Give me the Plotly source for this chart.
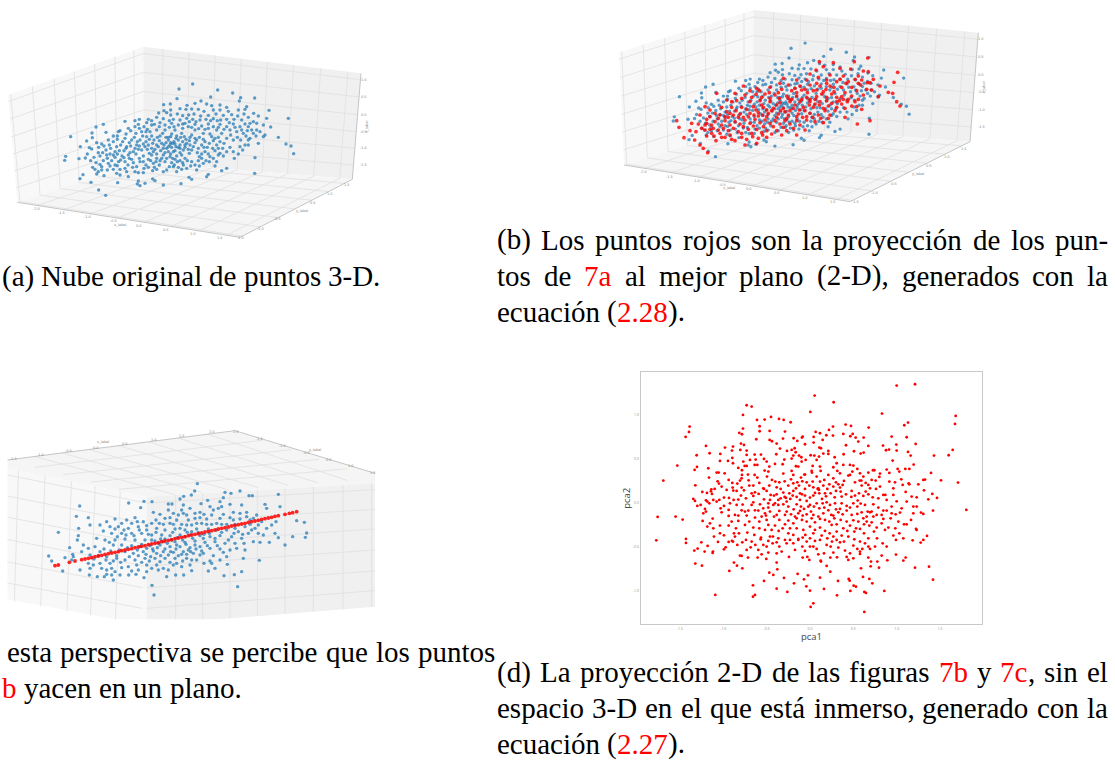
import plotly.graph_objects as go

# --- panel (a): blue cloud, read in picture units (3x crop of the panel)
A_pts = [(578,162),(537,177),(653,180),(698,189),(722,203),(764,204),(531,206),(632,201),(603,213),(585,220),(511,222),(491,224),(561,226),(620,222),(635,227),(660,225),(718,213),(680,232),(740,230),(492,242),(512,240),(540,236),(558,238),(575,237),(595,238),(612,244),(640,240),(660,240),(685,244),(715,240),(735,238),(807,241),(476,249),(500,248),(512,255),(532,252),(548,257),(566,255),(582,252),(602,258),(625,256),(648,252),(670,256),(695,254),(713,258),(732,252),(761,250),(775,258),(800,265),(865,265),(418,268),(445,268),(470,262),(490,266),(520,268),(540,270),(560,265),(578,268),(600,270),(618,268),(640,266),(662,270),(680,268),(702,268),(725,270),(745,262),(375,274),(405,272),(455,272),(790,285),(770,280),(760,275),(745,290),(812,291),(288,291),(310,283),(415,283),(432,290),(440,278),(463,283),(385,295),(405,290),(495,285),(515,280),(535,285),(555,280),(565,290),(585,283),(605,288),(625,282),(640,290),(660,283),(680,290),(700,282),(720,290),(735,282),(276,309),(318,307),(355,305),(360,302),(408,310),(425,305),(450,305),(470,300),(495,300),(525,300),(545,310),(585,300),(610,310),(625,295),(650,300),(665,310),(690,300),(710,305),(730,310),(760,310),(770,300),(790,320),(795,315),(212,320),(277,323),(260,333),(340,318),(325,330),(375,325),(395,330),(420,330),(440,320),(462,330),(480,318),(505,330),(512,320),(535,330),(553,320),(575,315),(590,330),(635,320),(655,322),(680,325),(700,330),(745,330),(750,325),(835,322),(290,338),(305,342),(368,335),(350,350),(380,350),(410,345),(445,345),(485,340),(500,355),(510,345),(518,340),(528,350),(540,345),(560,340),(580,350),(605,345),(628,340),(650,345),(672,340),(690,352),(720,350),(735,345),(775,340),(858,342),(873,348),(241,350),(268,353),(275,357),(318,360),(358,362),(400,365),(425,360),(465,358),(520,365),(550,360),(568,370),(615,365),(645,362),(660,370),(700,365),(881,371),(197,379),(194,391),(237,386),(256,384),(282,382),(300,378),(330,372),(340,375),(385,375),(430,378),(455,375),(490,375),(510,380),(530,378),(555,385),(598,380),(630,380),(670,378),(703,385),(765,383),(300,403),(305,410),(325,400),(330,408),(345,405),(352,407),(375,395),(400,398),(430,395),(460,400),(480,392),(515,398),(540,392),(575,395),(610,400),(650,395),(680,415),(665,422),(290,432),(312,437),(295,425),(350,430),(360,435),(380,425),(385,440),(405,425),(415,428),(430,428),(458,422),(470,418),(490,425),(500,420),(530,425),(545,418),(560,415),(590,420),(625,433),(620,440),(567,442),(575,448),(543,461),(490,465),(465,452),(458,447),(415,453),(412,462),(420,467),(435,460),(353,458),(273,457),(296,480),(317,496),(249,434),(240,446),(764,430),(478,332),(492,345),(505,322),(522,335),(530,318),(548,335),(568,332),(470,345),(455,355),(435,350),(515,352),(525,362),(540,368),(505,365),(490,355),(470,372),(448,370),(575,360),(595,355),(610,328),(622,352),(640,332),(668,355),(712,322),(455,318),(438,335),(415,358),(392,348),(372,362),(352,372),(362,390),(388,385),(418,385),(445,388),(470,385),(500,385),(525,388),(550,405),(598,408)]
A_more = [(262,372),(272,392),(288,398),(278,412),(310,392),(322,385),(335,392),(345,382),(356,395),(372,383),(384,405),(395,388),(408,372),(420,395),(438,405),(452,392),(463,412),(478,405),(495,395),(508,410),(523,405),(535,412),(548,398),(562,392),(585,405),(605,385),(618,392),(640,385),(655,375),(680,365),(715,372),(728,360),(745,345),(296,352),(312,348),(328,345),(340,335),(352,328),(362,345),(388,338),(403,322),(412,335),(428,318),(448,328),(458,340),(472,322),(488,310),(498,322),(515,312),(528,325),(542,322),(558,328),(570,345),(585,338),(598,322),(615,335),(630,312),(645,325),(660,335),(692,315),(722,330),(738,318),(755,300),(768,318),(780,305),(352,318),(378,312),(392,302),(418,295),(442,298),(478,290),(508,292),(522,290),(548,295),(575,292),(596,296),(615,298),(655,292),(672,298),(705,292),(742,302),(750,280),(725,300),(688,278),(652,272),(632,272),(588,275),(568,275),(548,282),(508,272),(480,278),(455,285),(438,305),(498,338),(512,338),(525,342),(535,352),(505,350),(482,362),(495,368),(512,372),(475,350),(460,365),(442,358),(430,342),(418,348),(405,355),(390,368),(378,355),(366,378),(345,365),(332,355),(320,375),(308,368),(295,368),(540,355),(555,352),(565,358),(592,368),(605,372),(625,372),(638,355),(655,355),(612,352),(585,325),(570,322),(555,345),(545,375),(532,395),(518,385),(485,385),(468,395),(445,412),(432,415),(410,410),(398,412),(375,415),(360,418),(340,418),(322,420),(305,420),(285,418),(520,410),(572,408),(595,392),(628,395),(645,408)]

# --- panel (b): red projected cloud, same picture units
B_red = [(863,217),(852,247),(848,280),(860,305),(870,318),(200,362),(207,382),(222,413),(254,420),(270,435),(280,445),(293,458),(773,174),(733,185),(628,185),(670,188),(640,200),(690,205),(722,207),(760,213),(775,215),(618,210),(600,222),(660,225),(700,228),(745,228),(790,238),(520,235),(560,240),(590,240),(625,232),(650,240),(680,245),(715,245),(755,240),(780,248),(810,258),(835,277),(510,250),(535,255),(570,258),(600,255),(630,258),(660,258),(695,262),(725,262),(770,268),(785,270),(805,290),(400,258),(440,265),(480,262),(515,268),(545,272),(575,270),(610,272),(640,275),(672,275),(705,278),(740,272),(760,285),(375,280),(405,285),(438,283),(465,282),(495,285),(530,288),(560,288),(590,292),(620,290),(650,292),(680,292),(715,298),(745,298),(320,280),(350,300),(380,302),(420,305),(450,302),(480,305),(510,308),(540,305),(570,305),(600,305),(630,305),(665,310),(695,312),(725,318),(755,328),(285,320),(300,330),(335,322),(365,322),(395,322),(430,320),(460,322),(490,325),(520,325),(550,325),(580,322),(610,322),(640,325),(675,332),(705,325),(740,320),(270,345),(300,350),(330,345),(360,340),(390,342),(420,340),(445,338),(475,340),(505,342),(535,345),(565,342),(600,340),(625,345),(660,345),(705,352),(742,372),(780,362),(245,370),(265,372),(290,370),(315,365),(345,362),(375,365),(405,360),(435,358),(465,360),(495,362),(525,362),(560,362),(590,360),(615,365),(640,368),(285,390),(310,385),(340,385),(370,385),(400,380),(430,378),(460,380),(490,380),(520,382),(550,385),(585,390),(330,400),(360,405),(395,400),(425,400),(455,398),(485,402),(515,405),(560,405),(290,408),(318,422),(375,422),(410,418),(445,415),(470,412),(440,430),(405,435),(285,375),(305,400),(345,412),(470,330),(500,315),(525,335),(555,315),(585,332),(615,312),(645,332),(470,350),(500,352),(530,355),(560,350),(590,350),(445,348),(415,350),(385,352),(355,352),(325,355),(480,370),(510,372),(540,372),(570,375),(450,368),(420,370),(390,372),(360,375),(335,375),(600,298),(635,282),(665,282),(695,290),(725,288)]
B_more = [(455,315),(438,330),(410,328),(378,332),(350,335),(345,350),(370,345),(400,352),(432,345),(458,345),(485,332),(512,332),(540,332),(568,330),(598,315),(628,315),(655,318),(688,302),(712,305),(735,305),(752,255),(772,248),(745,250),(708,250),(672,262),(648,268),(620,270),(592,278),(560,278),(535,295),(508,295),(480,295),(455,292),(425,292),(395,295),(365,305),(315,340),(290,358),(305,375),(325,390),(355,392),(385,395),(415,388),(440,388),(470,392),(500,392),(530,392),(458,405),(428,410),(395,412),(365,418),(335,412),(312,408),(300,388),(275,385),(258,395),(240,392),(578,352),(608,352),(632,355),(655,355),(680,322),(575,298),(545,298),(615,298),(650,302),(680,305),(700,298),(620,250),(650,250),(690,238),(735,238),(585,268),(555,265),(505,278),(478,278),(448,272),(420,272)]

# --- panel (c): blue cloud and red projected line, same picture units
C_pts = [(592,176),(584,198),(574,210),(551,214),(540,222),(835,208),(720,198),(693,205),(675,202),(747,212),(757,212),(670,218),(623,226),(603,236),(660,230),(386,234),(422,248),(432,229),(456,230),(505,237),(516,237),(239,243),(229,274),(265,278),(270,300),(300,300),(175,322),(236,310),(235,332),(232,345),(209,368),(146,393),(155,408),(188,438),(268,450),(292,455),(313,455),(335,450),(340,465),(386,450),(408,448),(432,458),(456,481),(462,510),(500,455),(527,450),(551,450),(575,437),(713,485),(725,440),(703,449),(672,452),(682,418),(645,430),(625,438),(778,406),(730,400),(795,238),(840,245),(800,250),(920,324),(916,337),(913,292),(890,287),(878,335),(855,360),(835,338),(825,325),(808,352),(780,352),(760,350),(732,355),(545,255),(520,265),(480,268),(460,262),(600,262),(640,255),(655,250),(700,262),(740,262),(770,270),(495,280),(530,285),(560,270),(585,280),(620,282),(660,280),(690,278),(720,282),(750,285),(785,290),(380,285),(405,278),(345,282),(320,290),(430,290),(455,295),(510,295),(545,298),(575,300),(605,295),(635,298),(665,298),(705,298),(735,305),(765,310),(800,310),(355,305),(385,310),(415,305),(440,315),(470,310),(495,315),(525,312),(555,315),(590,312),(625,312),(650,315),(680,315),(715,320),(745,325),(775,325),(335,325),(365,325),(395,325),(425,325),(455,330),(485,330),(510,332),(540,330),(570,330),(600,332),(630,335),(660,332),(695,335),(725,340),(290,340),(315,345),(345,345),(375,342),(405,345),(435,345),(465,348),(495,342),(525,350),(555,352),(585,348),(615,352),(645,350),(675,355),(705,355),(265,370),(285,365),(300,380),(340,360),(365,360),(395,362),(425,358),(450,362),(480,360),(510,365),(540,365),(570,368),(600,365),(630,370),(660,372),(690,375),(735,375),(245,380),(270,390),(295,392),(320,395),(350,392),(375,380),(400,385),(430,380),(460,378),(490,380),(520,382),(550,380),(580,385),(610,385),(640,392),(680,395),(710,370),(220,395),(195,398),(218,388),(265,415),(280,420),(300,415),(330,415),(350,400),(375,405),(405,405),(435,400),(465,400),(495,400),(525,400),(560,400),(590,405),(630,408),(270,430),(305,430),(320,435),(365,428),(385,425),(410,420),(440,420),(470,420),(490,430),(520,420),(545,425),(570,420),(440,440),(475,435),(505,435),(335,430),(415,435),(240,435),(250,360),(215,405),(635,415),(600,390),(565,375),(530,360),(490,350),(455,345),(420,365),(555,335),(515,345),(475,355),(585,360),(610,340),(575,320),(540,310),(635,270),(505,255),(550,265),(600,278),(670,268),(720,265)]
C_more = [(328,352),(352,335),(378,330),(402,332),(418,315),(445,328),(468,322),(482,342),(502,355),(518,322),(532,338),(548,345),(562,322),(578,340),(595,322),(612,328),(628,325),(645,340),(665,322),(685,345),(702,325),(728,328),(755,315),(790,330),(458,372),(472,368),(495,372),(512,380),(528,372),(545,388),(558,358),(572,380),(588,372),(605,378),(622,362),(652,362),(670,382),(312,372),(332,378),(358,375),(382,368),(412,375),(440,370),(438,388),(452,395),(470,385),(482,392),(505,390),(535,392),(560,388),(282,402),(318,405),(340,408),(362,412),(388,395),(415,392),(425,412),(448,408),(480,410),(510,412),(530,415),(548,408),(575,405),(612,415),(660,405),(455,430),(395,438),(345,440),(360,450),(320,448),(520,298),(490,298),(468,285),(440,302),(412,290),(395,295),(365,295),(330,305),(310,318),(345,312),(372,315),(560,300),(590,295),(620,298),(650,295),(680,298),(705,310),(750,298),(775,300),(815,300),(828,290),(612,268),(585,265),(565,285),(535,270),(510,278),(478,295),(700,285),(740,275),(760,280),(550,240),(570,250),(630,245),(665,245),(690,238),(725,240)]
C_red = [(165,422),(175,420),(208,412),(225,408),(245,404),(255,402),(265,400),(275,398),(285,395),(295,393),(305,391),(315,388),(325,386),(335,384),(345,382),(355,380),(365,377),(375,375),(385,373),(395,371),(405,368),(415,366),(425,364),(435,362),(445,359),(455,357),(465,355),(475,353),(485,350),(495,348),(505,346),(515,344),(525,341),(535,339),(545,337),(555,335),(565,332),(575,330),(585,328),(595,326),(605,324),(615,321),(625,319),(635,317),(645,315),(655,312),(665,310),(675,308),(685,306),(695,303),(705,301),(715,299),(725,297),(735,295),(745,292),(755,290),(765,288),(775,286),(785,283),(795,281),(805,279),(815,277),(825,274),(835,272),(855,268),(868,265),(878,263),(890,260)]

# --- panel (d): picture units of the 3x crop, converted to pca1 / pca2 below
D_pts = [(885,58),(830,62),(584,92),(641,112),(380,121),(395,125),(571,141),(786,146),(369,150),(453,156),(1007,153),(411,165),(434,164),(477,162),(491,165),(512,172),(1005,177),(677,179),(693,183),(864,173),(853,181),(419,184),(746,188),(209,185),(369,191),(639,185),(627,195),(207,201),(197,216),(419,199),(449,198),(495,200),(587,201),(600,205),(358,204),(366,208),(815,215),(619,211),(639,212),(670,207),(698,207),(691,214),(707,218),(731,218),(860,217),(409,223),(449,225),(456,229),(489,221),(521,220),(548,215),(546,218),(581,216),(532,228),(555,238),(581,233),(608,225),(715,230),(470,236),(363,236),(372,240),(258,243),(315,248),(339,245),(678,241),(745,243),(789,242),(829,239),(887,237),(598,248),(603,250),(480,251),(524,250),(336,257),(361,255),(380,257),(515,255),(501,258),(527,262),(807,254),(798,256),(830,257),(702,259),(731,263),(722,266),(864,261),(998,255),(625,258),(610,266),(269,265),(301,267),(469,268),(404,269),(423,269),(337,279),(380,270),(230,271),(986,271),(942,272),(872,272),(572,271),(583,272),(597,275),(537,272),(520,272),(544,277),(515,281),(557,285),(671,268),(625,267),(644,277),(407,284),(432,282),(440,290),(493,284),(324,288),(300,288),(818,287),(881,299),(339,295),(370,290),(390,285),(465,297),(545,290),(590,285),(650,295),(700,302),(172,302),(231,306),(224,315),(265,310),(355,309),(374,303),(380,303),(404,300),(412,300),(448,305),(488,298),(528,304),(535,305),(578,303),(600,305),(640,307),(670,300),(690,300),(712,312),(759,316),(763,316),(800,314),(833,312),(856,312),(868,312),(838,320),(290,323),(296,323),(314,325),(366,316),(434,317),(515,318),(555,329),(575,318),(576,323),(602,318),(652,318),(697,320),(720,325),(745,323),(780,326),(808,324),(933,324),(404,330),(366,330),(384,329),(520,330),(490,326),(445,320),(130,347),(267,338),(226,361),(293,349),(297,356),(326,345),(337,354),(352,356),(360,347),(365,340),(386,346),(412,338),(418,354),(456,345),(466,350),(441,335),(494,349),(513,343),(543,338),(553,329),(547,349),(537,362),(578,350),(600,350),(613,345),(640,340),(655,358),(685,332),(690,330),(719,347),(724,347),(737,354),(767,347),(778,336),(808,350),(825,352),(844,343),(866,355),(868,358),(910,345),(915,344),(963,346),(1014,353),(895,358),(745,360),(780,365),(725,362),(640,365),(595,370),(580,367),(520,355),(470,367),(430,370),(400,362),(338,368),(365,368),(284,372),(274,373),(261,384),(273,379),(628,358),(660,368),(247,381),(276,387),(220,402),(340,377),(372,376),(395,385),(405,382),(432,372),(452,390),(462,392),(490,383),(494,396),(498,399),(520,378),(540,385),(546,388),(593,372),(597,375),(585,384),(632,385),(662,380),(695,378),(717,385),(737,380),(750,370),(768,372),(790,390),(796,390),(820,390),(912,376),(857,381),(937,387),(951,399),(925,403),(890,397),(312,398),(327,399),(341,405),(355,404),(363,392),(378,400),(400,393),(416,387),(432,403),(450,405),(475,405),(511,402),(530,396),(560,408),(580,392),(606,402),(618,394),(644,397),(665,395),(694,396),(713,407),(730,393),(758,397),(775,400),(800,405),(830,409),(225,408),(258,406),(280,405),(232,423),(262,410),(268,415),(312,423),(302,430),(326,435),(368,419),(385,437),(400,412),(405,436),(415,437),(430,430),(445,428),(460,420),(490,418),(521,433),(543,425),(540,438),(570,420),(590,415),(608,415),(613,428),(630,420),(645,415),(660,432),(680,423),(700,415),(722,416),(743,440),(750,442),(775,428),(790,437),(815,425),(840,443),(880,425),(890,425),(903,443),(939,437),(1039,435),(255,432),(250,445),(258,440),(305,442),(345,450),(365,436),(438,452),(470,450),(495,450),(513,448),(535,445),(573,440),(625,436),(648,433),(680,437),(712,447),(740,455),(770,450),(800,437),(827,448),(880,445),(910,447),(113,456),(167,455),(188,464),(248,468),(278,461),(270,475),(262,485),(326,453),(355,452),(355,468),(388,470),(418,470),(440,465),(462,455),(478,465),(505,467),(530,460),(546,465),(560,470),(585,472),(615,465),(643,460),(662,465),(680,470),(700,466),(730,460),(755,472),(785,475),(812,460),(852,478),(860,478),(873,465),(280,490),(300,482),(326,482),(348,490),(400,488),(445,480),(465,482),(495,478),(520,475),(570,485),(600,488),(635,480),(670,490),(720,492),(748,482),(805,488),(826,490),(888,492),(312,511),(342,505),(357,505),(382,503),(403,510),(423,518),(450,515),(459,515),(476,498),(505,505),(535,522),(556,510),(580,505),(605,512),(629,505),(640,515),(665,512),(685,515),(703,523),(720,530),(745,520),(771,520),(795,495),(820,512),(838,505),(890,495),(921,513),(878,526),(910,525),(198,522),(109,526),(336,528),(326,531),(422,523),(510,525),(535,525),(585,528),(636,530),(560,530),(198,534),(244,532),(294,531),(312,553),(317,547),(263,543),(233,551),(223,557),(254,560),(279,560),(339,530),(367,532),(392,547),(406,540),(430,540),(440,545),(458,535),(478,545),(500,535),(520,535),(547,545),(570,545),(580,545),(620,540),(632,545),(660,532),(700,542),(712,552),(720,560),(720,567),(745,545),(750,552),(788,535),(828,525),(902,533),(360,572),(425,568),(445,563),(470,565),(612,565),(595,568),(640,563),(675,557),(727,552),(226,596),(246,602),(278,564),(384,578),(365,573),(413,578),(439,582),(507,576),(548,578),(562,576),(568,585),(603,590),(602,587),(631,578),(651,577),(680,576),(685,585),(745,578),(753,590),(785,572),(828,569),(857,578),(850,587),(772,590),(342,593),(351,602),(367,610),(470,593),(472,613),(620,603),(631,620),(723,610),(752,604),(777,608),(802,586),(885,608),(927,605),(328,618),(448,623),(533,627),(939,644),(460,630),(686,642),(492,639),(600,638),(564,631),(552,643),(432,648),(654,648),(689,647),(729,636),(748,642),(757,655),(522,655),(399,661),(701,662),(708,665),(559,664),(470,671),(612,672),(691,678),(570,677),(502,681),(733,681),(738,684),(793,678),(286,690),(651,691),(405,690),(399,695),(580,715),(572,726),(733,741)]
D_more = [(505,362),(528,370),(555,372),(568,362),(610,362),(622,372),(648,352),(672,348),(705,352),(350,378),(388,362),(448,362),(478,352),(532,352),(560,352),(590,335),(625,330),(660,325),(440,378),(482,372),(508,385),(555,392),(570,398),(598,385),(648,378),(678,388),(705,392),(745,388),(470,388),(482,400),(518,392),(540,405),(565,425),(582,425),(598,430),(620,412),(665,415),(690,428),(712,425),(735,420),(760,418),(475,420),(505,425),(530,418),(552,432),(560,448),(580,450),(595,455),(610,445),(634,450),(668,448),(695,450),(725,442),(755,440),(785,450),(815,445),(395,420),(420,418),(435,445),(450,440),(478,438),(500,440),(525,455),(548,452),(575,460),(600,462),(628,470),(650,478),(690,482),(708,490),(732,478),(770,488),(380,452),(405,458),(425,455),(375,480),(418,490),(435,495),(455,495),(488,490),(510,490),(530,490),(550,495),(585,495),(615,498),(650,500),(682,498),(703,500),(732,505),(762,500),(475,520),(495,525),(520,510),(548,518),(570,520),(600,525),(622,520),(650,525),(672,530),(378,525),(395,530),(445,528),(470,532),(345,515),(300,505),(282,515),(352,540),(380,555),(415,555),(485,560),(525,555),(555,558),(590,552),(655,548),(690,565),(700,580),(735,535),(765,545),(800,545),(850,520),(320,375),(305,365),(330,415),(350,420),(335,470),(375,440),(290,410),(242,420),(298,405),(640,452),(655,442),(715,470),(740,470),(760,455),(790,462),(835,470),(845,430),(860,410),(875,395),(848,360),(820,370),(755,345),(730,335),(668,360),(615,385),(500,410),(465,415),(445,415)]

D_xticks = [-1.5, -1.0, -0.5, 0.0, 0.5, 1.0, 1.5]
D_yticks = [-1.0, -0.5, 0.0, 0.5, 1.0]

# --- captions: "|" glues pieces of one word, "!" marks a red piece
# (y, left x, right x for justified lines or None, words)
CAPTION_LINES = [
    (276, 2, None, "(a) Nube original de puntos 3-D."),
    (239.5, 497, 1108, "(b) Los puntos rojos son la proyección de los pun-"),
    (275.5, 497, 1108, "tos de !7a al mejor plano (2-D), generados con la"),
    (311.5, 497, None, "ecuación (|!2.28|)."),
    (651.5, 7, 495, "esta perspectiva se percibe que los puntos"),
    (688, 2, None, "!b yacen en un plano."),
    (672, 497, 1108, "(d) La proyección 2-D de las figuras !7b y !7c|, sin el"),
    (708, 497, 1108, "espacio 3-D en el que está inmerso, generado con la"),
    (743.5, 497, None, "ecuación (|!2.27|)."),
]
# Times advance widths (per 1000 em), to lay out the justified lines
TIMES = {" ": 250, "(": 333, ")": 333, ",": 250, "-": 333, ".": 250, "2": 500, "3": 500, "7": 500, "8": 500,
         "D": 722, "L": 611, "N": 722, "a": 444, "b": 500, "c": 444, "d": 500, "e": 444, "f": 333, "g": 500,
         "i": 278, "j": 278, "l": 278, "m": 778, "n": 500, "o": 500, "p": 500, "q": 500, "r": 333, "s": 389,
         "t": 278, "u": 500, "v": 500, "y": 500, "ó": 500, "á": 444}

W, H = 1115, 761
BLUE, RED = "#1f77b4", "#ff0000"
GRID, EDGE, TICK = "#e0e0e0", "#b8b8b8", "#8a8a8a"
SERIF = "Liberation Serif"
CAP = 29

fig = go.Figure()
annotations = []


def axes(n, px0, px1, py0, py1, xr, yr):
    s = "" if n == 1 else str(n)
    fig.layout["xaxis" + s] = dict(domain=[px0 / W, px1 / W], range=xr, visible=False, anchor="y" + s, fixedrange=True)
    fig.layout["yaxis" + s] = dict(domain=[1 - py1 / H, 1 - py0 / H], range=yr, visible=False, anchor="x" + s, fixedrange=True)
    return ("x" + s, "y" + s)


def poly(ax, pts, color):
    xs = [p[0] for p in pts] + [pts[0][0]]
    ys = [p[1] for p in pts] + [pts[0][1]]
    fig.add_trace(go.Scatter(x=xs, y=ys, xaxis=ax[0], yaxis=ax[1], mode="lines", fill="toself",
                             fillcolor=color, line=dict(width=0), hoverinfo="skip", showlegend=False))


def lerp(a, b, t):
    return (a[0] + (b[0] - a[0]) * t, a[1] + (b[1] - a[1]) * t)


def grid(ax, p00, p10, p01, p11, us, vs):
    xs, ys = [], []
    for u in us:
        a, b = lerp(p00, p10, u), lerp(p01, p11, u)
        xs += [a[0], b[0], None]
        ys += [a[1], b[1], None]
    for v in vs:
        a, b = lerp(p00, p01, v), lerp(p10, p11, v)
        xs += [a[0], b[0], None]
        ys += [a[1], b[1], None]
    fig.add_trace(go.Scatter(x=xs, y=ys, xaxis=ax[0], yaxis=ax[1], mode="lines",
                             line=dict(color=GRID, width=0.8), hoverinfo="skip", showlegend=False))


def edge(ax, pts):
    fig.add_trace(go.Scatter(x=[p[0] for p in pts], y=[p[1] for p in pts], xaxis=ax[0], yaxis=ax[1], mode="lines",
                             line=dict(color=EDGE, width=0.8), hoverinfo="skip", showlegend=False))


def dots(ax, pts, color, size=3.4, op=0.72):
    fig.add_trace(go.Scatter(x=[p[0] for p in pts], y=[p[1] for p in pts], xaxis=ax[0], yaxis=ax[1], mode="markers",
                             marker=dict(color=color, size=size, opacity=op, line=dict(width=0)), showlegend=False))


def labels(ax, items, size=3.5, angle=0):
    for x, y, t in items:
        annotations.append(dict(x=x, y=y, xref=ax[0], yref=ax[1], text=t, showarrow=False, textangle=angle,
                                font=dict(size=size, color=TICK, family="DejaVu Sans")))


def box(ax, bl, back, br, front, top_l, top_b, top_r, us_l, us_r, vs):
    poly(ax, [top_l, top_b, back, bl], "#f8f8f8")
    poly(ax, [top_b, top_r, br, back], "#f0f0f0")
    poly(ax, [bl, back, br, front], "#f5f5f5")
    grid(ax, top_l, top_b, bl, back, us_l, vs)
    grid(ax, top_b, top_r, back, br, us_r, vs)
    grid(ax, back, br, bl, front, us_r, [1 - u for u in us_l])
    edge(ax, [bl, front, br, top_r])


US_L = [.02, .18, .34, .49, .64, .79, .93]
US_R = [.09, .21, .33, .45, .57, .69, .815, .94]
VS = [.06, .223, .39, .55, .707, .865]
A_all = A_pts + A_more

# panel (a)
ax_a = axes(1, 0, 380, 30, 250, [0, 1140], [660, 0])
box(ax_a, (52, 517), (430, 395), (1057, 448), (720, 622), (24, 195), (430, 50), (1083, 130), US_L, US_R, VS)
dots(ax_a, A_all, BLUE)
labels(ax_a, [(108, 537, "-2.0"), (184, 549, "-1.5"), (261, 562, "-1.0"), (339, 574, "-0.5"), (417, 587, "0.0"),
              (498, 600, "0.5"), (579, 612, "1.0"), (660, 623, "1.5"), (360, 584, "x_label"),
              (1040, 466, "1.5"), (990, 492, "1.0"), (940, 518, "0.5"), (833, 568, "-0.5"), (780, 597, "-1.0"),
              (722, 625, "-1.5"), (905, 543, "y_label"),
              (1091, 149, "1.0"), (1091, 201, "0.5"), (1091, 254, "0.0"), (1091, 305, "-0.5"), (1091, 355, "-1.0"),
              (1091, 405, "-1.5")])
labels(ax_a, [(1101, 290, "z_label")], angle=-90)

# panel (b): same blue cloud seen from a nearly identical camera
ax_b = axes(2, 610, 990, 0, 215, [0, 1140], [645, 0])
box(ax_b, (42, 495), (430, 375), (1080, 425), (720, 605), (27, 157), (430, 30), (1105, 98), US_L, US_R, VS)
dots(ax_b, [(x * 1.03 - 10, y * 1.02 - 36) for x, y in A_all], BLUE)
dots(ax_b, B_red + B_more, RED, size=3.7, op=0.8)
labels(ax_b, [(100, 516, "-2.0"), (178, 530, "-1.5"), (258, 543, "-1.0"), (337, 555, "-0.5"), (418, 567, "0.0"),
              (502, 580, "0.5"), (584, 593, "1.0"), (668, 606, "1.5"), (357, 565, "x_label"),
              (1062, 447, "1.5"), (1010, 470, "1.0"), (958, 497, "0.5"), (850, 552, "-0.5"), (793, 578, "-1.0"),
              (735, 606, "-1.5"), (925, 522, "y_label"),
              (1114, 116, "1.0"), (1114, 170, "0.5"), (1114, 225, "0.0"), (1114, 277, "-0.5"), (1114, 329, "-1.0"),
              (1114, 380, "-1.5")])
labels(ax_b, [(1122, 262, "z_label")], angle=-90)

# panel (c): seen from below, clipped by the crop of the image
ax_c = axes(3, 22 / 3, 375, 425, 425 + 583 / 3, [22, 1125], [583, 0])
poly(ax_c, [(22, 105), (705, 17), (1125, 145), (1125, 175), (440, 215), (22, 130)], "#f5f5f5")
grid(ax_c, (22, 105), (705, 17), (440, 215), (1125, 160), [.12, .24, .36, .49, .62, .75, .88], [.2, .4, .6, .8])
edge(ax_c, [(22, 105), (705, 17), (1125, 145)])
poly(ax_c, [(22, 130), (440, 215), (440, 600), (22, 523)], "#f8f8f8")
poly(ax_c, [(440, 215), (1125, 175), (1125, 545), (440, 600)], "#f0f0f0")
grid(ax_c, (22, 130), (440, 215), (10, 523), (425, 600), [.08, .27, .46, .63, .81], [.05, .21, .37, .54, .71, .87])
grid(ax_c, (440, 215), (1125, 175), (440, 600), (1125, 545), [.127, .245, .365, .485, .606, .73, .86, .985], [.05, .21, .37, .54, .71, .87])
dots(ax_c, C_pts + C_more, BLUE)
dots(ax_c, C_red, RED, size=3.8, op=0.85)
labels(ax_c, [(40, 101, "-1.5"), (122, 90, "-1.0"), (204, 79, "-0.5"), (288, 68, "0.0"), (374, 57, "0.5"), (461, 46, "1.0"),
              (547, 34, "1.5"), (635, 22, "2.0"), (708, 20, "2.5"), (308, 50, "x_label"), (778, 42, "-1.5"), (848, 63, "-1.0"),
              (918, 84, "-0.5"), (988, 104, "0.5"), (1053, 124, "1.0"), (1118, 143, "1.5"), (945, 75, "y_label")])

# panel (d)
D_all = D_pts + D_more
pca1 = [(x - 570) / 260 for x, _ in D_all]
pca2 = [(414 - y) / 263 for _, y in D_all]
FRAME = dict(showgrid=False, zeroline=False, showline=True, mirror=True, linecolor="#c8c8c8", linewidth=1, ticks="",
             tickfont=dict(size=3.5, color=TICK), fixedrange=True)
fig.layout["xaxis4"] = dict(domain=[640.7 / W, 982.3 / W], range=[-1.953, 1.988], anchor="y4", tickvals=D_xticks,
                            ticktext=[f"{v:.1f}" for v in D_xticks],
                            title=dict(text="pca1", font=dict(size=9.5, color="#444444"), standoff=0), **FRAME)
fig.layout["yaxis4"] = dict(domain=[1 - 624.3 / H, 1 - 372.3 / H], range=[-1.384, 1.49], anchor="x4", tickvals=D_yticks,
                            ticktext=[f"{v:.1f}" for v in D_yticks],
                            title=dict(text="pca2", font=dict(size=9.5, color="#444444"), standoff=0), **FRAME)
fig.add_trace(go.Scatter(x=pca1, y=pca2, xaxis="x4", yaxis="y4", mode="markers",
                         marker=dict(color=RED, size=2.8, line=dict(width=0)), showlegend=False))


# captions, one annotation per glued piece so the justified lines keep their spacing
def width(text):
    return sum(TIMES[c] for c in text) * CAP / 1000


for y, left, right, line in CAPTION_LINES:
    words = [w.split("|") for w in line.split(" ")]
    sizes = [sum(width(p.lstrip("!")) for p in w) for w in words]
    gap = width(" ") if right is None else (right - left - sum(sizes)) / (len(words) - 1)
    x = left
    for pieces, size in zip(words, sizes):
        px = x
        for piece in pieces:
            text = piece.lstrip("!")
            annotations.append(dict(x=(px - 1) / W, y=1 - y / H, xref="paper", yref="paper", xanchor="left", yanchor="middle",
                                    text=text, showarrow=False, borderpad=0,
                                    font=dict(family=SERIF, size=CAP, color=RED if piece.startswith("!") else "#000000")))
            px += width(text)
        x += size + gap

fig.update_layout(width=W, height=H, margin=dict(l=0, r=0, t=0, b=0), paper_bgcolor="white", plot_bgcolor="white",
                  showlegend=False, annotations=annotations, hovermode=False)
fig.write_html("out.html", config=dict(displayModeBar=False),
               post_script="document.body.style.margin='0';document.documentElement.style.overflow='hidden';")
